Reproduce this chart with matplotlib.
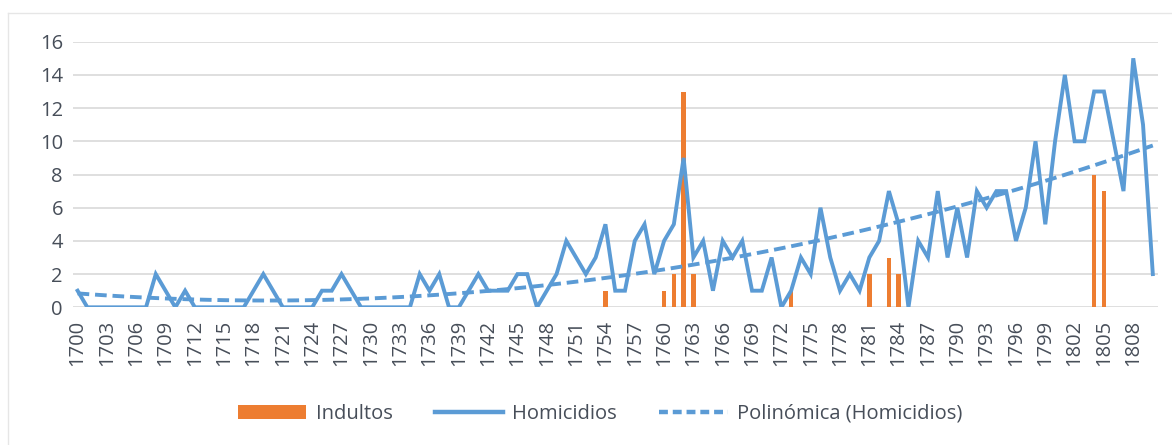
import numpy as np
import matplotlib
matplotlib.use("Agg")
import matplotlib.pyplot as plt
from matplotlib.lines import Line2D
from matplotlib.patches import Patch

plt.rcParams['font.family'] = ['Open Sans', 'DejaVu Sans']

years = list(range(1700, 1811))
homicidios = [
    1, 0, 0, 0, 0, 0, 0, 0, 2, 1,      # 1700-1709
    0, 1, 0, 0, 0, 0, 0, 0, 1, 2,      # 1710-1719
    1, 0, 0, 0, 0, 1, 1, 2, 1, 0,      # 1720-1729
    0, 0, 0, 0, 0, 2, 1, 2, 0, 0,      # 1730-1739
    1, 2, 1, 1, 1, 2, 2, 0, 1, 2,      # 1740-1749
    4, 3, 2, 3, 5, 1, 1, 4, 5, 2,      # 1750-1759
    4, 5, 9, 3, 4, 1, 4, 3, 4, 1,      # 1760-1769
    1, 3, 0, 1, 3, 2, 6, 3, 1, 2,      # 1770-1779
    1, 3, 4, 7, 5, 0, 4, 3, 7, 3,      # 1780-1789
    6, 3, 7, 6, 7, 7, 4, 6, 10, 5,     # 1790-1799
    10, 14, 10, 10, 13, 13, 10, 7, 15, 11,  # 1800-1809
    2,                                  # 1810
]
indulto_years = [1754, 1760, 1761, 1762, 1763, 1773, 1781, 1783, 1784, 1804, 1805]
indulto_values = [1, 1, 2, 13, 2, 1, 2, 3, 2, 8, 7]

tick_labels = [str(y) for y in years]

BLUE = '#5B9BD5'
ORANGE = '#ED7D31'
GRID = '#D9D9D9'
TXT = '#474E59'
FS = 14.5

fig = plt.figure(figsize=(11.72, 4.45), dpi=100)
ax = fig.add_axes([72.7 / 1172, 1 - 307.3 / 445, (1157.7 - 72.7) / 1172, (307.3 - 41.7) / 445])

idx = np.arange(len(years))
ind = np.zeros(len(years))
for y, v in zip(indulto_years, indulto_values):
    ind[years.index(y)] = v

ax.bar(idx, ind, width=0.45, color=ORANGE, zorder=2)
ax.plot(idx, homicidios, color=BLUE, lw=2.8, zorder=3, solid_joinstyle='miter')

coef = np.polyfit(idx + 1, np.array(homicidios, dtype=float), 2)
trend = np.polyval(coef, idx + 1)
ax.plot(idx, trend, color=BLUE, lw=2.8, ls=(0, (3.0, 1.5)), zorder=3)

ax.set_xlim(-0.5, len(years) - 0.5)
ax.set_ylim(0, 16)
ax.set_yticks(range(0, 17, 2))
ax.set_xticks(idx[::3])
ax.set_xticklabels(tick_labels[::3], rotation=90)
ax.grid(axis='y', color=GRID, lw=1.2, zorder=0)
ax.set_axisbelow(True)
for s in ax.spines.values():
    s.set_visible(False)
ax.tick_params(axis='both', length=0, labelsize=FS, colors=TXT)
ax.tick_params(axis='y', pad=7)
ax.tick_params(axis='x', pad=9)

handles = [
    Patch(facecolor=ORANGE, edgecolor='none'),
    Line2D([], [], color=BLUE, lw=3.2),
    Line2D([], [], color=BLUE, lw=3.2, ls=(0, (2.0, 1.1))),
]
labels = ['Indultos', 'Homicidios', 'Polinómica (Homicidios)']
fig.legend(handles, labels, loc='center', bbox_to_anchor=(0.512, 1 - 414 / 445),
           ncol=3, frameon=False, fontsize=FS, labelcolor=TXT,
           handlelength=3.4, handleheight=0.75, handletextpad=0.45, columnspacing=2.1)

# faint chart border (left and top)
fig.add_artist(Line2D([8 / 1172, 8 / 1172], [1 - 13 / 445, 0], transform=fig.transFigure,
                      color='#E6E6E6', lw=1))
fig.add_artist(Line2D([8 / 1172, 1], [1 - 13 / 445, 1 - 13 / 445], transform=fig.transFigure,
                      color='#E6E6E6', lw=1))

fig.savefig('out.png', dpi=100, facecolor='white')
